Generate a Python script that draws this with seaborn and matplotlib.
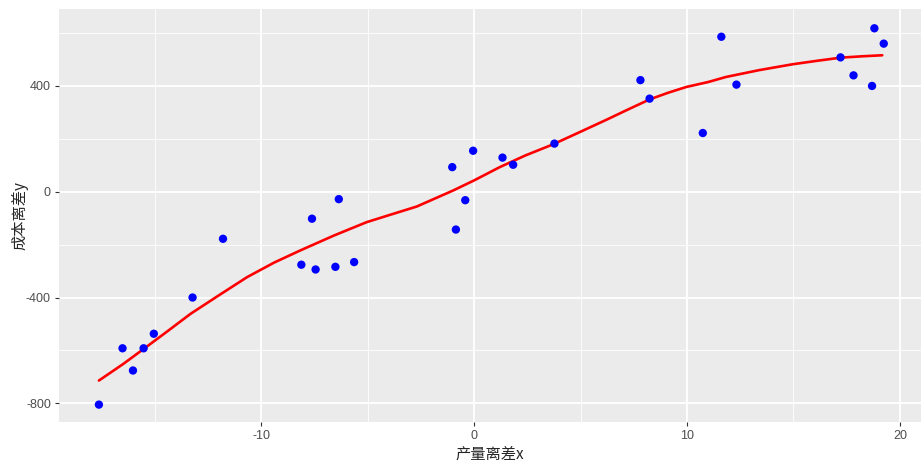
import numpy as np
import pandas as pd
import matplotlib
matplotlib.use("Agg")
import matplotlib.pyplot as plt
from matplotlib.ticker import MultipleLocator
import seaborn as sns

# data
x_dev = [-17.63, -16.52, -16.03, -15.53, -15.05, -13.23, -11.80, -8.12, -7.62, -7.45,
         -6.52, -6.36, -5.64, -1.03, -0.86, -0.42, -0.05, 1.33, 1.83, 3.77,
         7.81, 8.24, 10.74, 11.61, 12.32, 17.21, 17.82, 18.69, 18.80, 19.24]
y_dev = [-805, -592, -676, -592, -537, -400, -178, -276, -102, -294,
         -284, -28, -266, 93, -143, -32, 155, 129, 102, 182,
         422, 352, 222, 586, 405, 508, 440, 400, 618, 560]

# fitted curve
curve_x = [-17.63, -16.5, -15.52, -14.4, -13.33, -12.0, -10.67, -9.4, -8.17, -6.6, -5.05,
           -3.9, -2.70, -0.98, 0.0, 1.20, 2.4, 3.70, 5.0, 6.21, 7.2, 8.24, 9.1,
           9.96, 11.0, 11.83, 13.4, 14.96, 16.1, 17.22, 18.2, 19.17]
curve_y = [-714, -652, -594, -527, -462, -392, -323, -268, -222, -166, -115,
           -86, -56, 5, 43, 93, 137, 179, 227, 272, 310, 349, 374,
           396, 415, 434, 460, 482, 495, 507, 512, 516]

df = pd.DataFrame({"x": x_dev, "y": y_dev})
fit = pd.DataFrame({"x": curve_x, "y": curve_y})

sns.set_style("darkgrid", {"axes.facecolor": "#EBEBEB", "grid.color": "white"})
plt.rcParams['font.family'] = ['Liberation Sans', 'Noto Sans CJK SC', 'DejaVu Sans']
plt.rcParams['axes.unicode_minus'] = False

fig = plt.figure(figsize=(9.21, 4.61), dpi=100)
ax = fig.add_axes([0.0644, 0.0853, 0.9356, 0.8952])

sns.lineplot(data=fit, x="x", y="y", color="red", linewidth=1.9, ax=ax, zorder=3)
sns.scatterplot(data=df, x="x", y="y", color="blue", s=36, edgecolor="none", ax=ax, zorder=4)

ax.set_xlim(-19.49, 20.99)
ax.set_ylim(-869.5, 691)
ax.xaxis.set_major_locator(MultipleLocator(10))
ax.xaxis.set_minor_locator(MultipleLocator(5))
ax.yaxis.set_major_locator(MultipleLocator(400))
ax.yaxis.set_minor_locator(MultipleLocator(200))
ax.grid(which="major", color="white", linewidth=1.3)
ax.grid(which="minor", color="white", linewidth=0.6)
for s in ax.spines.values():
    s.set_visible(False)

ax.tick_params(which="major", length=3, width=0.8, color="#333333",
               labelcolor="#4D4D4D", labelsize=9, pad=3, bottom=True, left=True)
ax.tick_params(which="minor", length=0)

ax.set_xlabel("产量离差x", fontsize=11, family=['Noto Sans CJK SC'], labelpad=2.5)
ax.set_ylabel("成本离差y", fontsize=11, family=['Noto Sans CJK SC'])
ax.yaxis.set_label_coords(-0.0355, 0.5)

plt.savefig("out.png", dpi=100)
